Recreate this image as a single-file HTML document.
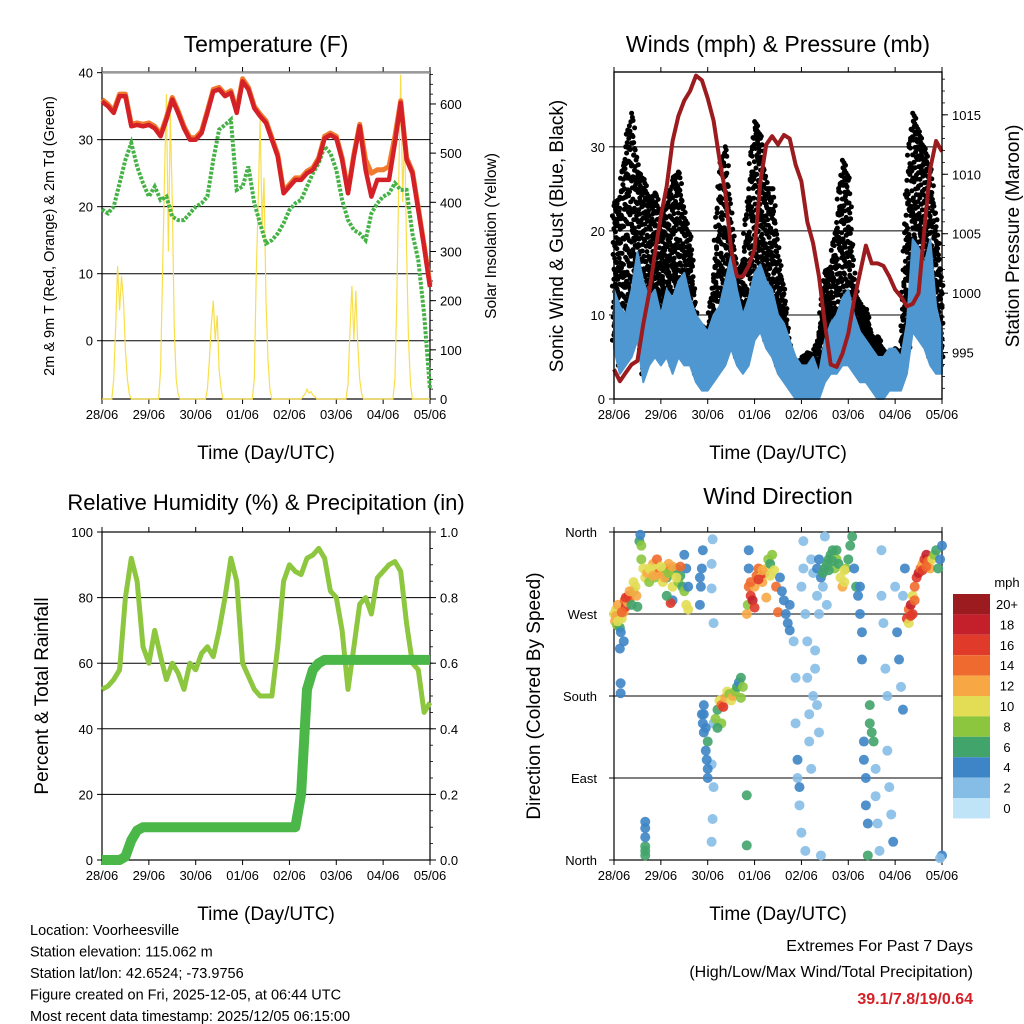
<!DOCTYPE html>
<html><head><meta charset="utf-8"><style>
html,body{margin:0;padding:0;background:#fff;}
svg{display:block;font-family:"Liberation Sans",sans-serif;}
</style></head><body>
<svg id="c" width="1024" height="1024" viewBox="0 0 1024 1024"></svg>
<script>
// ---------- DATA (3-hourly samples, k=0..56 over 7 days) ----------
const dayLabels = ["28/06","29/06","30/06","01/06","02/06","03/06","04/06","05/06"];
const tempRed = [35.7,35,34,36.5,36.5,32,32.2,32,32.2,31.7,30.5,33,36,34,31.7,30,30,31,34,37.2,37.5,36.5,37,34,38.7,37.5,34.7,33.5,32.5,30,27.5,22,23,24,24,25,25.5,27,30.2,30.7,30.2,27,22,27.5,32,25.5,21.5,24,24,24,29.5,35.5,27,25,19.5,14,8];
const tempOrange = [36,35.3,34.3,36.8,36.8,32.3,32.5,32.3,32.5,32,30.8,33.3,36.3,34.3,32,30.3,30.3,31.3,34.3,37.5,37.8,36.8,37.3,34.3,39.1,37.8,35,33.8,32.8,30.3,27.8,22.3,23.3,24.3,24.3,25.3,25.8,27.3,30.5,31,30.5,27.3,22.3,27.8,32.3,27,25,25.5,25.5,26,30.5,35.8,27.3,25.3,19.8,14.3,8.3];
const dewGreen = [19.6,19,20,23.5,27,29.5,26,23.5,21.5,23,21,21.5,18.5,18,18,19,20,20.5,21.5,27,31.5,32.2,33,22.5,23,26,20.5,17.5,14.5,15,16,17.5,19.5,20.5,21,23,25,26.5,29,28,25.5,21,18,16.5,16,15,19,20.5,21.5,22,23.5,22.5,22.5,16,12,4,-7.3];
const solar = [0,0,0,0,0,0,40,150,270,180,250,200,100,40,10,0,0,0,0,0,0,0,0,0,
 0,0,0,0,0,0,60,250,450,620,300,580,400,150,40,10,0,0,0,0,0,0,0,0,
 0,0,0,0,0,0,20,80,150,200,120,170,60,20,0,0,0,0,0,0,0,0,0,0,
 0,0,0,0,0,0,40,250,400,570,350,450,200,80,20,0,0,0,0,0,0,0,0,0,
 0,0,0,0,0,0,0,5,10,20,12,15,8,5,0,0,0,0,0,0,0,0,0,0,
 0,0,0,0,0,0,30,140,230,120,220,110,40,10,0,0,0,0,0,0,0,0,0,0,
 0,0,0,0,0,0,40,200,450,660,400,550,300,120,30,0,0,0,0,0,0,0,0,0,0];
const windLow = [6,3,4,5,7,2,4,5,4,5,3,5,4,4,2,1,1,2,3,4,6,4,3,4,7,8,6,5,3,2,1,0,0,0,0,0,2,3,3,4,4,3,2,2,1,0,0,1,1,1,3,8,7,6,4,3,3];
const windHigh = [13,11,10,13,17.5,14,12,13,10,13,12,14,15,12,10,9,8,10,11,14,17,13,10,12,15,16,14,13,10,9,7,5,4,4,5,3,7,9,10,12,13,10,8,7,6,5,5,6,6,5,9,19,18,16,19,11,8];
const gustMax = [23,24,30,34,27,26,23.5,24.5,21.5,23,26,27,21.5,19,9,8.6,8,14,27,30,21,14.5,16.5,25,33,31,25,25,17,12.5,5.5,4.3,4.7,5.5,5,7.4,15,15.7,21,28.4,26,13.4,11,10.6,7,7.4,5.5,5.5,6,4.7,26,34,31.5,29.5,27,20.5,12.5];
const pressure = [993.6,992.6,993.3,994,994.3,997.4,1000,1003.4,1006.5,1009,1012.8,1014.9,1016.2,1017,1018.3,1017.9,1016.4,1014.5,1011.3,1008.5,1003.7,1001.4,1001.4,1002.3,1003.7,1009.4,1012.5,1013.2,1012.5,1013.3,1013,1010.8,1009.4,1006,1004.2,1001.4,997.4,994,993.8,994.9,996.6,999.4,1001.7,1004,1002.5,1002.5,1002.3,1001.4,1000.3,999.7,998.9,999.1,1000,1005.4,1010.5,1012.8,1011.9];
const rh = [52,53,55,58,80,92,85,65,60,70,62,55,60,57,52,60,58,63,65,62,70,80,92,85,60,56,52,50,50,50,65,85,90,88,87,92,93,95,92,82,80,70,52,65,78,80,75,86,88,90,91,88,72,60,58,45,48];
const precip = [0,0,0,0,0.01,0.06,0.09,0.1,0.1,0.1,0.1,0.1,0.1,0.1,0.1,0.1,0.1,0.1,0.1,0.1,0.1,0.1,0.1,0.1,0.1,0.1,0.1,0.1,0.1,0.1,0.1,0.1,0.1,0.1,0.2,0.52,0.58,0.6,0.61,0.61,0.61,0.61,0.61,0.61,0.61,0.61,0.61,0.61,0.61,0.61,0.61,0.61,0.61,0.61,0.61,0.61,0.61];
const dirPts = [[0,270,10],[0.5,262,12],[1,275,9],[1.5,258,8],[2,280,11],[2.5,268,7],[3,255,6],[3.5,250,4],[4,265,10],[5,272,12],[5.5,285,14],[6,278,16],[7,283,12],[7.5,290,18],[8,287,14],[9,280,6],[10,295,8],[11,300,10],[11.5,290,12],[12,278,6],[3,232,4],[5,240,4],[3.4,194,4],[3.4,183,4],[1,268,12],[2,262,10],[4,272,14],[6,288,16],[8,295,12],[10,305,10],
[16,5,6],[16,15,6],[16,25,4],[16,35,4],[16,42,4],[16,10,6],
[13,350,6],[13.5,357,4],[14,345,8],[14,330,8],[15,320,10],[16,310,10],[17,315,12],[18,305,8],[19,318,10],[20,325,12],[21,310,8],[22,320,10],[23,315,14],[24,312,12],[25,305,10],[26,320,8],[27,310,6],[28,325,12],[29,318,14],[30,300,10],[31,315,10],[32,320,6],[33,305,8],[34,312,6],[35,300,6],[36,295,8],[37,280,10],[38,275,10],[38,300,4],[37,320,4],[36,335,4],[30,285,4],[29,282,16],[27,290,6],[18,320,10],[20,312,12],[22,330,14],[24,322,10],[26,310,12],[28,315,8],[30,322,12],[32,310,10],[34,322,14],
[44,280,4],[44.5,300,4],[45,320,4],[45.5,340,4],[44,310,4],[50,325,1],[50.5,352,1],[50,298,2],[51,260,2],[51,150,2],[50,105,2],[51,80,1],[50.5,45,2],[50,20,2],
[45,160,4],[45.5,150,4],[46,170,4],[46,140,4],[47,120,4],[47.5,110,4],[48,100,4],[48,90,4],[46,160,4],[47,145,4],[52,155,8],[53,165,6],[54,175,10],[55,170,14],[56,168,16],[57,178,12],[58,185,10],[59,182,8],[60,175,10],[61,180,12],[62,185,8],[63,190,6],[64,195,4],[65,200,6],[66,190,8],[65,178,8],[55,150,8],[53,145,6],[48,130,6],[68,71,6],[68,16,6],
[68,270,12],[68.5,280,8],[69,300,14],[69,320,4],[69,340,4],[70,290,16],[71,285,18],[72,300,12],[73,312,14],[74,320,14],[75,310,10],[76,305,12],[77,315,16],[78,320,10],[79,330,8],[80,325,6],[81,335,8],[82,318,10],[83,300,14],[84,272,14],[85,310,4],[86,295,4],[87,285,4],[88,270,4],[89,260,4],[90,252,4],[90,280,4],[72,277,16],[78,288,12],[70,305,14],[74,308,16],[76,318,12],[80,312,10],
[92,240,2],[93,200,2],[93,150,2],[94,110,4],[94,90,2],[95,80,4],[95,60,1],[96,30,2],[96,300,2],[97,320,1],[97,350,1],[98,10,1],[98,270,1],[99,240,2],[99,200,2],[100,160,2],[100,130,1],[101,100,2],[101,330,2],[102,315,1],[102,180,1],[103,230,1],[103,210,1],[104,170,1],[104,290,2],[105,270,2],[105,140,1],[106,5,1],[107,300,1],[108,355,2],[109,280,2],
[104,320,4],[105,330,4],[106,310,4],[107,315,6],[108,320,6],[109,325,6],[110,330,6],[111,335,6],[112,340,6],[113,320,8],[114,330,8],[115,325,6],[116,310,10],[117,300,12],[118,305,10],[119,320,8],[120,330,6],[121,345,6],[122,355,6],[123,320,4],[124,300,6],[125,290,4],[110,318,6],[112,328,6],[114,340,6],[118,318,10],
[126,300,4],[126,270,4],[127,250,4],[127,220,4],[128,130,4],[128,110,4],[129,90,4],[129,60,4],[130,40,4],[130,5,6],[131,170,6],[131,150,6],[132,140,6],[133,130,6],[134,100,2],[134,70,1],[135,40,2],[136,10,1],[137,340,2],[137,290,2],[138,260,1],[139,210,2],[140,180,2],[140,120,2],[141,80,2],[142,50,2],[143,20,4],[144,300,2],[145,250,4],[146,220,4],[147,190,2],[148,165,4],[148,290,2],[149,320,4],
[150,265,16],[151,275,14],[151,260,10],[152,280,18],[153,270,16],[153,290,10],[154,300,14],[155,310,16],[156,315,18],[157,320,14],[158,325,12],[159,330,16],[160,335,18],[161,328,14],[162,320,12],[163,330,10],[164,335,8],[165,340,6],[166,320,6],[167,330,4],[168,345,4],[168,5,4],[167,2,2],[152,268,16],[154,285,14],[158,318,16],[160,322,14]];
const speedLabels = ["20+","18","16","14","12","10","8","6","4","2","0"];
const speedColors = ["#9b1b1e","#c4202c","#e03a2a","#ef6a2e","#f7a845","#e2dd55","#8cc63f","#41a46a","#3d85c6","#86bde6","#bfe4f7"];

// ---------- helpers ----------
const NS="http://www.w3.org/2000/svg";
const svg=document.getElementById('c');
function mk(tag,attrs,parent){const e=document.createElementNS(NS,tag);for(const k in attrs)e.setAttribute(k,attrs[k]);(parent||svg).appendChild(e);return e;}
function txt(s,x,y,size,anchor,extra){const t=mk('text',Object.assign({x:x,y:y,'font-size':size,'text-anchor':anchor||'middle',fill:'#000'},extra||{}));t.textContent=s;return t;}
const P1={x0:102,x1:430,y0:72,y1:399}, P2={x0:614,x1:942,y0:72,y1:399}, P3={x0:102,x1:430,y0:532,y1:860}, P4={x0:614,x1:942,y0:532,y1:860};
function xk(P,k){return P.x0+k/56*(P.x1-P.x0);}
function xh(P,h){return P.x0+h/168*(P.x1-P.x0);}
function lin(v,v0,v1,P){return P.y1-(v-v0)/(v1-v0)*(P.y1-P.y0);}

function frame(P,name){
  const g=mk('g',{});
  
  
  mk('rect',{x:P.x0,y:P.y0,width:P.x1-P.x0,height:P.y1-P.y0,fill:'none',stroke:'#000','stroke-width':1.2},g);
  for(let d=0;d<=7;d++){
    const x=P.x0+d/7*(P.x1-P.x0);
    mk('line',{x1:x,x2:x,y1:P.y1,y2:P.y1+5,stroke:'#000'},g);
    mk('line',{x1:x,x2:x,y1:P.y0,y2:P.y0-5,stroke:'#000'},g);
    const t=txt(dayLabels[d],x,P.y1+20,13);
    
    
  }
  const xt=txt('Time (Day/UTC)',(P.x0+P.x1)/2,P.y1+60,19);
  
  
  return g;
}
function yTicks(P,vals,v0,v1,side,labelFmt,grid,name){
  vals.forEach(v=>{
    const y=lin(v,v0,v1,P);
    if(side==='left'){
      mk('line',{x1:P.x0-5,x2:P.x0,y1:y,y2:y,stroke:'#000'});
      const t=txt(labelFmt(v),P.x0-9,y+5,13,'end');
      
      
      if(grid){const l=mk('line',{x1:P.x0,x2:P.x1,y1:y,y2:y,stroke:'#000','stroke-width':1});
        
        }
    } else {
      mk('line',{x1:P.x1,x2:P.x1+6,y1:y,y2:y,stroke:'#000'});
      const t=txt(labelFmt(v),P.x1+10,y+5,13,'start');
      
      
    }
  });
}
function minorRight(P,v0,v1,step){for(let v=Math.ceil(v0/step)*step;v<=v1;v+=step){const y=lin(v,v0,v1,P);mk('line',{x1:P.x1,x2:P.x1+3,y1:y,y2:y,stroke:'#000','stroke-width':0.8});}}
function pathFrom(arr,fx,fy){return arr.map((v,i)=>(i?'L':'M')+fx(i).toFixed(1)+','+fy(v).toFixed(1)).join('');}
function rotLabel(s,x,y,size,name){const t=txt(s,x,y,size,'middle',{transform:`rotate(-90 ${x} ${y})`});return t;}
function interp(arr,t){const i=Math.floor(t),f=t-i;if(i>=arr.length-1)return arr[arr.length-1];return arr[i]+(arr[i+1]-arr[i])*f;}

// ---------- Panel 1: Temperature ----------
const T0=-8.7,T1=40.1,S0=0,S1=665;
frame(P1,'temperature');
yTicks(P1,[0,10,20,30],T0,T1,'left',v=>v,true,'temp-y');
yTicks(P1,[40],T0,T1,'left',v=>v,false,'temp-y');
mk('line',{x1:P1.x0,x2:P1.x1,y1:lin(40,T0,T1,P1),y2:lin(40,T0,T1,P1),stroke:'#999','stroke-width':2});
yTicks(P1,[0,100,200,300,400,500,600],S0,S1,'right',v=>v,false,'solar-y');
minorRight(P1,S0,S1,20);
const sol=mk('path',{d:pathFrom(solar,i=>xh(P1,i),v=>lin(v,S0,S1,P1)),fill:'none',stroke:'#f8df4a','stroke-width':1.2});


const dew=mk('path',{d:pathFrom(dewGreen,i=>xk(P1,i),v=>lin(v,T0,T1,P1)),fill:'none',stroke:'#45b246','stroke-width':4,'stroke-dasharray':'3 1.5'});


const tor=mk('path',{d:pathFrom(tempOrange,i=>xk(P1,i),v=>lin(v,T0,T1,P1)),fill:'none',stroke:'#f07a2e','stroke-width':5,'stroke-linejoin':'round'});


const tr=mk('path',{d:pathFrom(tempRed,i=>xk(P1,i),v=>lin(v,T0,T1,P1)),fill:'none',stroke:'#d42027','stroke-width':4.5,'stroke-linejoin':'round'});


let t1=txt('Temperature (F)',266,52,23);
rotLabel('2m & 9m T (Red, Orange) & 2m Td (Green)',54,236,14.5,'temp-y-axis-title');
rotLabel('Solar Insolation (Yellow)',496,236,15.5,'solar-y-axis-title');

// ---------- Panel 2: Winds ----------
const W0=0,W1=38.9,PR0=991.1,PR1=1018.6;
frame(P2,'winds');
yTicks(P2,[0,10,20,30],W0,W1,'left',v=>v,true,'wind-y');
yTicks(P2,[995,1000,1005,1010,1015],PR0,PR1,'right',v=>v,false,'pressure-y');
minorRight(P2,PR0,PR1,1);
const gustG=mk('g',{});


const fracs=[0,0.07,0.14,0.22,0.3,0.39,0.48,0.58,0.69,0.8,0.9,1];
const SUB=8;
for(let i=0;i<56;i++){
  for(let s=0;s<SUB;s++){
    const t=i+s/SUB;
    const lo=interp(windLow,t)+1, g=interp(gustMax,t);
    fracs.forEach((f,j)=>{
      const ff=Math.min(1,f+((s*5+j*3)%7)*0.012);
      const v=lo+(g-lo)*ff;
      mk('circle',{cx:(xk(P2,t)+((j*2+s)%5-2)*0.8).toFixed(1),cy:lin(v,W0,W1,P2).toFixed(1),r:2.5,fill:'#000'},gustG);
    });
  }
}
let bd='';
windHigh.forEach((v,i)=>{bd+=(i?'L':'M')+xk(P2,i).toFixed(1)+','+lin(v,W0,W1,P2).toFixed(1);});
for(let i=56;i>=0;i--)bd+='L'+xk(P2,i).toFixed(1)+','+lin(windLow[i],W0,W1,P2).toFixed(1);
const bb=mk('path',{d:bd+'Z',fill:'#4f97d0',stroke:'#4f97d0','stroke-width':2,'stroke-linejoin':'round'});


const pl=mk('path',{d:pathFrom(pressure,i=>xk(P2,i),v=>lin(v,PR0,PR1,P2)),fill:'none',stroke:'#9b1b1e','stroke-width':4,'stroke-linejoin':'round'});


mk('rect',{x:P2.x0,y:P2.y0,width:P2.x1-P2.x0,height:P2.y1-P2.y0,fill:'none',stroke:'#000','stroke-width':1.2});
let t2=txt('Winds (mph) & Pressure (mb)',778,52,23);
rotLabel('Sonic Wind & Gust (Blue, Black)',563,236,19,'wind-y-axis-title');
rotLabel('Station Pressure (Maroon)',1019,236,19,'pressure-y-axis-title');

// ---------- Panel 3: RH & Precip ----------
frame(P3,'humidity');
yTicks(P3,[20,40,60,80],0,100,'left',v=>v,true,'rh-y');
yTicks(P3,[0,100],0,100,'left',v=>v,false,'rh-y');
yTicks(P3,[0,0.2,0.4,0.6,0.8,1.0],0,1.0,'right',v=>v.toFixed(1),false,'precip-y');
minorRight(P3,0,1.0,0.05);
const rhl=mk('path',{d:pathFrom(rh,i=>xk(P3,i),v=>lin(v,0,100,P3)),fill:'none',stroke:'#8dc63f','stroke-width':5,'stroke-linejoin':'round'});


const prl=mk('path',{d:pathFrom(precip,i=>xk(P3,i),v=>lin(v,0,1,P3)),fill:'none',stroke:'#4bb749','stroke-width':10,'stroke-linejoin':'round'});


let t3=txt('Relative Humidity (%) & Precipitation (in)',266,510,22);
rotLabel('Percent & Total Rainfall',48,696,19,'rh-y-axis-title');

// ---------- Panel 4: Wind Direction ----------
frame(P4,'direction');
const dirLabels=["North","East","South","West","North"];
[0,90,180,270,360].forEach((d,i)=>{const y=lin(d,0,360,P4);
  mk('line',{x1:P4.x0-5,x2:P4.x0,y1:y,y2:y,stroke:'#000'});
  if(d>0&&d<360){const l=mk('line',{x1:P4.x0,x2:P4.x1,y1:y,y2:y,stroke:'#000'});}
  const t=txt(dirLabels[i],P4.x0-17,y+5,13,'end');});
function spdColor(s){const idx=Math.min(10,Math.round(s/2));return speedColors[10-idx];}
dirPts.forEach(p=>{const c=mk('circle',{cx:xh(P4,p[0]),cy:lin(p[1],0,360,P4),r:5,fill:spdColor(p[2]),'fill-opacity':0.9});
  
  });
let t4=txt('Wind Direction',778,504,23);
rotLabel('Direction (Colored By Speed)',540,696,19,'direction-y-axis-title');
// colorbar
const cb=mk('g',{});


speedLabels.forEach((l,i)=>{const y=594+i*20.4;
  const r=mk('rect',{x:953,y:y,width:37,height:20.4,fill:speedColors[i]},cb);
  
  
  const t=txt(l,1007,y+15,13,'middle');
  
  });
let mph=txt('mph',1007,587,13);

// ---------- Footer text ----------
const info=["Location: Voorheesville","Station elevation: 115.062 m","Station lat/lon: 42.6524; -73.9756","Figure created on Fri, 2025-12-05, at 06:44 UTC","Most recent data timestamp: 2025/12/05 06:15:00"];
info.forEach((s,i)=>{const t=txt(s,30,935+i*21.5,14.5,'start');});
let e1=txt('Extremes For Past 7 Days',973,951,16,'end');
let e2=txt('(High/Low/Max Wind/Total Precipitation)',973,977,16,'end');
let e3=txt('39.1/7.8/19/0.64',973,1004,16,'end',{fill:'#d42027','font-weight':'bold'});
</script>
</body></html>
